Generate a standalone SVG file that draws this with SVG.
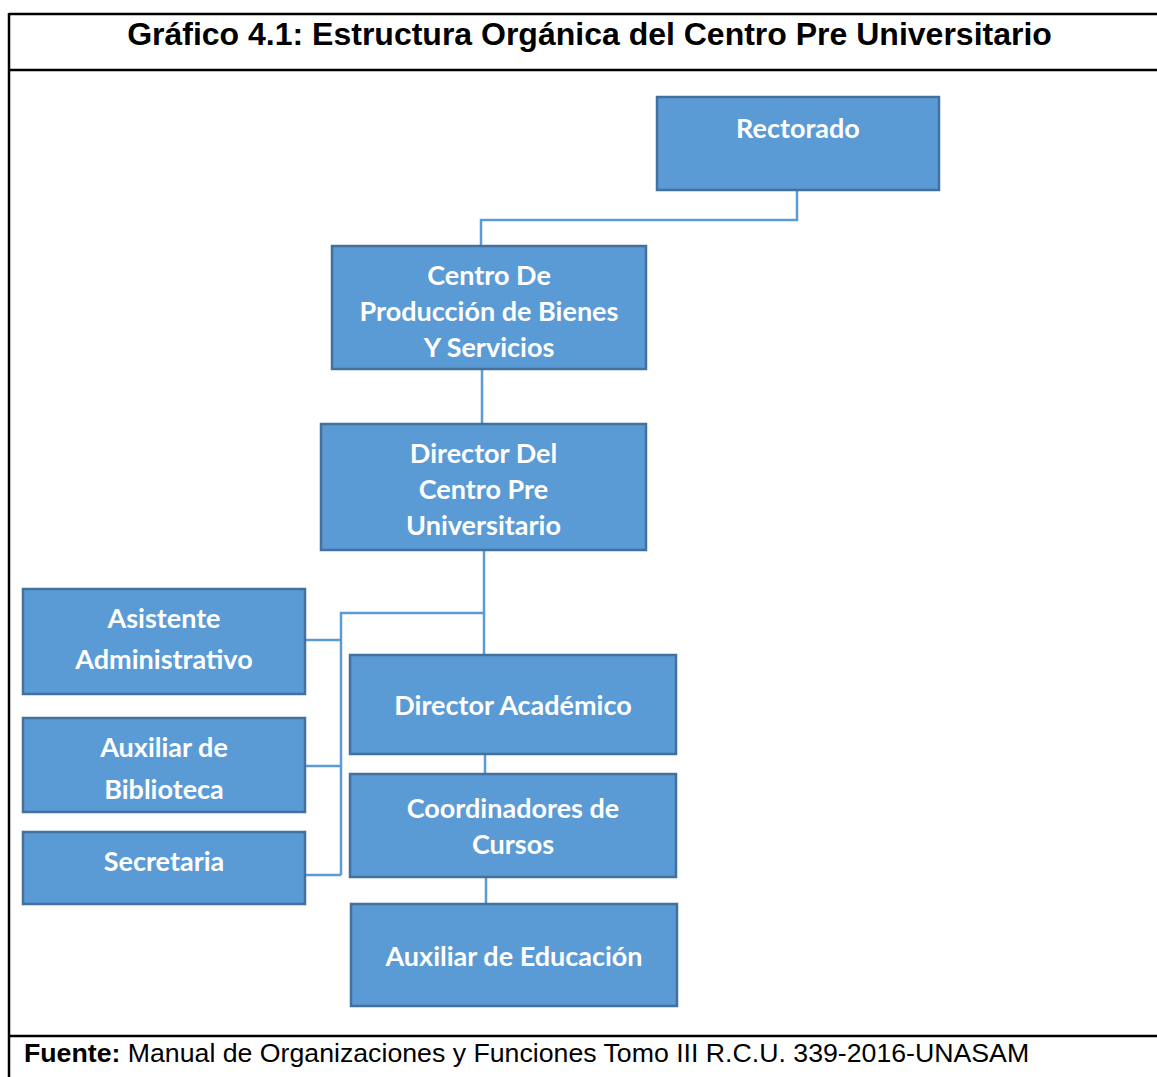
<svg xmlns="http://www.w3.org/2000/svg" width="1157" height="1077" viewBox="0 0 1157 1077">
<style>
.box{fill:#5B9BD5;stroke:#41719C;stroke-width:2.5}
.lbl{font-family:Lato,"Open Sans",sans-serif;font-weight:700;font-size:27px;fill:#FFFFFF;text-anchor:middle}
.con{fill:none;stroke:#5B9BD5;stroke-width:2.5}
.frame{fill:none;stroke:#000;stroke-width:2.5}
</style>
<rect width="1157" height="1077" fill="#FFFFFF"/>
<g id="frame">
<line class="frame" x1="9" y1="14" x2="1157" y2="14"/>
<line class="frame" x1="9" y1="70" x2="1157" y2="70"/>
<line class="frame" x1="9" y1="1036" x2="1157" y2="1036"/>
<line class="frame" x1="9" y1="13" x2="9" y2="1077"/>
</g>
<text x="589.5" y="45" font-family="Liberation Sans, Arial, sans-serif" font-weight="700" font-size="32" text-anchor="middle" fill="#000">Gráfico 4.1: Estructura Orgánica del Centro Pre Universitario</text>
<g id="connectors">
<polyline class="con" points="797,190 797,220 481,220 481,246"/>
<line class="con" x1="482" y1="369" x2="482" y2="424"/>
<line class="con" x1="484" y1="550" x2="484" y2="655"/>
<polyline class="con" points="484,613 341,613 341,875"/>
<line class="con" x1="305" y1="640" x2="341" y2="640"/>
<line class="con" x1="305" y1="766" x2="341" y2="766"/>
<line class="con" x1="305" y1="875" x2="341" y2="875"/>
<line class="con" x1="485" y1="754" x2="485" y2="774"/>
<line class="con" x1="486" y1="877" x2="486" y2="904"/>
</g>
<g id="rectorado">
<rect class="box" x="657" y="97" width="282" height="93"/>
<text class="lbl" x="798" y="138">Rectorado</text>
</g>
<g id="centro-produccion">
<rect class="box" x="332" y="246" width="314" height="123"/>
<text class="lbl" x="489" y="285">Centro De</text>
<text class="lbl" x="489" y="321">Producción de Bienes</text>
<text class="lbl" x="489" y="357">Y Servicios</text>
</g>
<g id="director-cpu">
<rect class="box" x="321" y="424" width="325" height="126"/>
<text class="lbl" x="483.5" y="463">Director Del</text>
<text class="lbl" x="483.5" y="499">Centro Pre</text>
<text class="lbl" x="483.5" y="535">Universitario</text>
</g>
<g id="asistente">
<rect class="box" x="23" y="589" width="282" height="105"/>
<text class="lbl" x="164" y="628">Asistente</text>
<text class="lbl" x="164" y="669">Administrativo</text>
</g>
<g id="auxiliar-biblioteca">
<rect class="box" x="23" y="718" width="282" height="94"/>
<text class="lbl" x="164" y="757">Auxiliar de</text>
<text class="lbl" x="164" y="799">Biblioteca</text>
</g>
<g id="secretaria">
<rect class="box" x="23" y="832" width="282" height="72"/>
<text class="lbl" x="164" y="871">Secretaria</text>
</g>
<g id="director-academico">
<rect class="box" x="350" y="655" width="326" height="99"/>
<text class="lbl" x="513" y="715">Director Académico</text>
</g>
<g id="coordinadores">
<rect class="box" x="350" y="774" width="326" height="103"/>
<text class="lbl" x="513" y="818">Coordinadores de</text>
<text class="lbl" x="513" y="854">Cursos</text>
</g>
<g id="auxiliar-educacion">
<rect class="box" x="351" y="904" width="326" height="102"/>
<text class="lbl" x="514" y="966">Auxiliar de Educación</text>
</g>
<text x="24" y="1062" font-family="Liberation Sans, Arial, sans-serif" font-size="26.7" fill="#000"><tspan font-weight="700">Fuente:</tspan> Manual de Organizaciones y Funciones Tomo III R.C.U. 339-2016-UNASAM</text>
</svg>
